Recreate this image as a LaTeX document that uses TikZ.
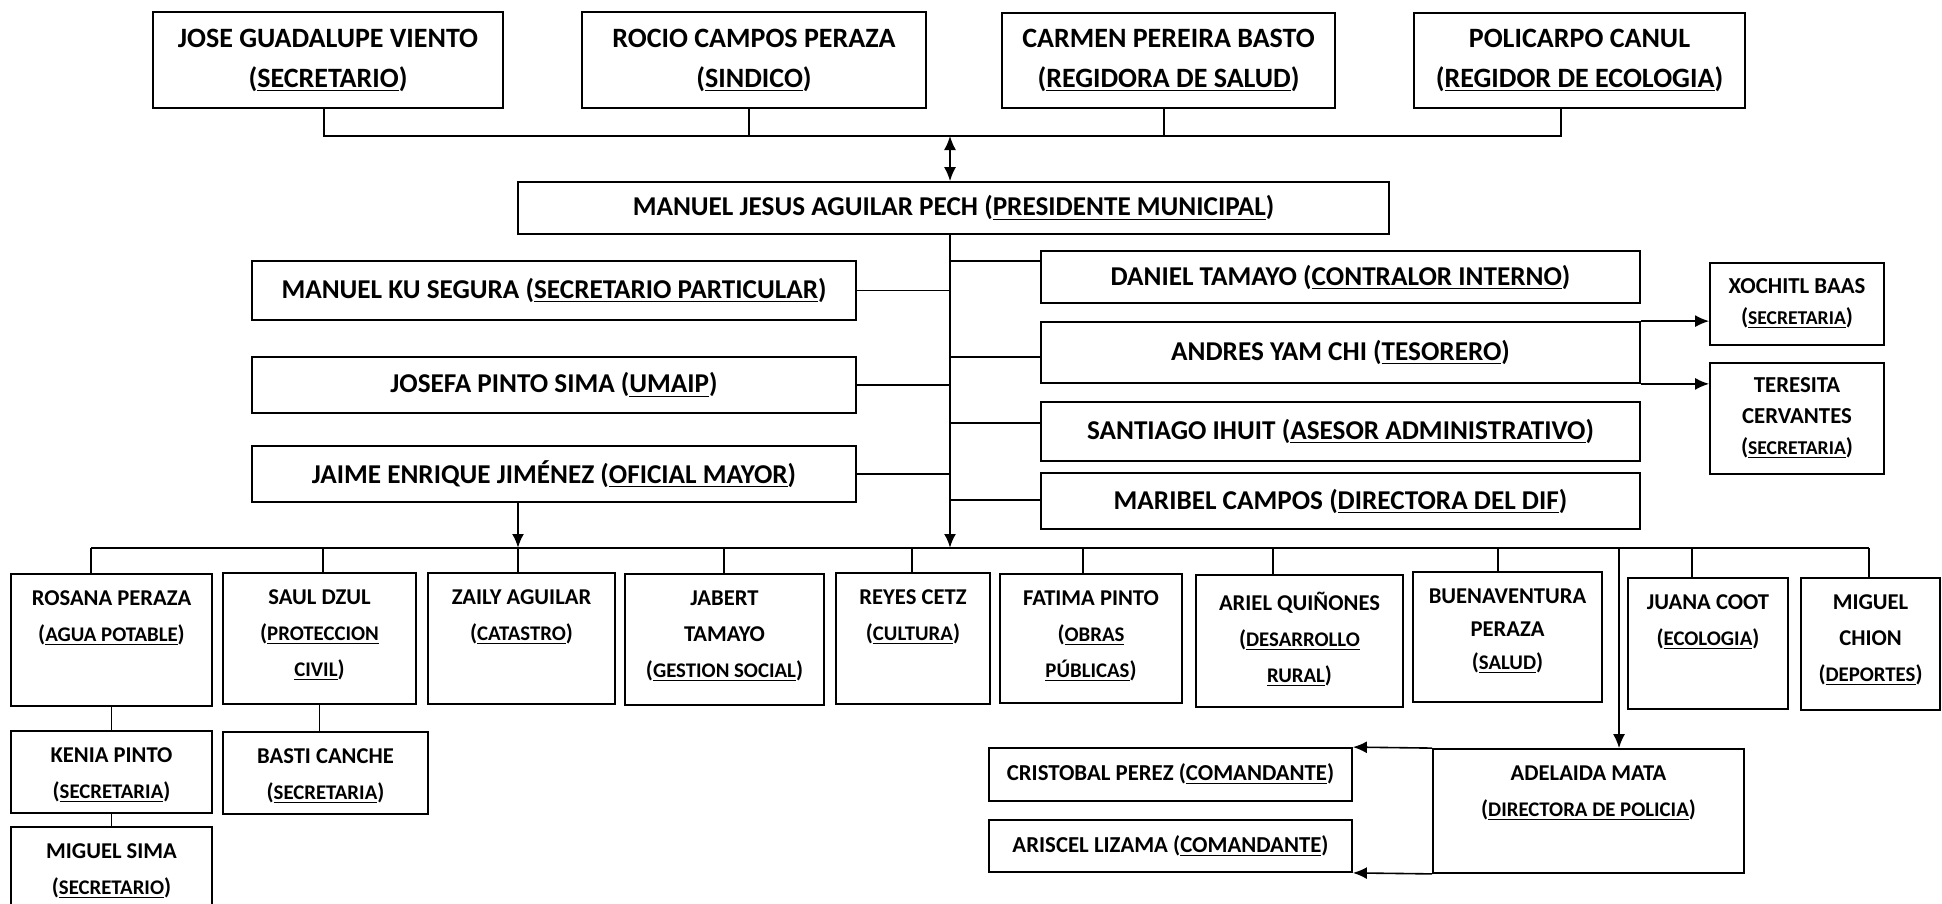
\documentclass[tikz,border=0pt]{standalone}
\usepackage{fontspec}
\setmainfont{Carlito}
\usetikzlibrary{arrows.meta}
\newcommand\rsc[1]{{\fontsize{10.4}{18}\selectfont\underline{#1}}}
\newcommand\rxs[1]{{\fontsize{9.8}{15.5}\selectfont\underline{#1}}}
\newcommand\bx[7]{\node[#1, minimum width={(#4-#2)*0.5pt}, minimum height={(#5-#3)*0.5pt}] (#6) at ({(#2+#4)/2},{(#3+#5)/2}) {#7};}
\newcommand\sbx[6]{\node[sbox, minimum width={(#3-#1)*0.5pt}, minimum height={(#4-#2)*0.5pt}, label={[lbl]north:{#6}}] (#5) at ({(#1+#3)/2},{(#2+#4)/2}) {};}
\tikzset{
  bx/.style={draw, line width=0.9pt, inner sep=0pt, align=center},
  tbox/.style={bx, font=\bfseries\fontsize{14}{20}\selectfont},
  mbox/.style={bx, font=\bfseries\fontsize{13.6}{20}\selectfont},
  sbox/.style={bx},
  xbox/.style={bx, font=\bfseries\fontsize{11.4}{15.5}\selectfont},
  cbox/.style={bx, font=\bfseries\fontsize{11.4}{15}\selectfont},
  lbl/.style={anchor=north, yshift=-8.7pt, inner sep=0pt, align=center, font=\bfseries\fontsize{11.3}{18}\selectfont},
  conn/.style={line width=0.8pt},
  trunk/.style={line width=1.2pt},
  tip/.style={-{Latex[length=7pt,width=6pt]}}
}
\begin{document}
\begin{tikzpicture}[x=0.5pt,y=-0.5pt]
\useasboundingbox (0,0) rectangle (1942,904);
\clip (0,0) rectangle (1942,904);
% top row
\bx{tbox}{153}{12}{503}{108}{jose}{JOSE GUADALUPE VIENTO\\(\underline{SECRETARIO})}
\bx{tbox}{582}{12}{926}{108}{rocio}{ROCIO CAMPOS PERAZA\\(\underline{SINDICO})}
\bx{tbox}{1002}{13}{1335}{108}{carmen}{CARMEN PEREIRA BASTO\\(\underline{REGIDORA DE SALUD})}
\bx{tbox}{1414}{13}{1745}{108}{poli}{POLICARPO CANUL\\(\underline{REGIDOR DE ECOLOGIA})}
\coordinate (dj) at (324,136);
\coordinate (dr) at (749,136);
\coordinate (dc) at (1164,136);
\coordinate (dp) at (1561,136);
\coordinate (dm) at (950,136);
\draw[conn] (dj |- jose.south) -- (dj) -- (dp) -- (dp |- poli.south);
\draw[conn] (dr |- rocio.south) -- (dr);
\draw[conn] (dc |- carmen.south) -- (dc);
% president
\bx{mbox}{518}{182}{1389}{234}{pres}{MANUEL JESUS AGUILAR PECH (\underline{PRESIDENTE MUNICIPAL})}
\draw[conn, {Latex[length=7pt,width=6pt]}-{Latex[length=7pt,width=6pt]}] (dm) -- (dm |- pres.north);
\coordinate (tr) at (950,548);
\draw[trunk, tip] (tr |- pres.south) -- (tr);
% left column
\bx{mbox}{252}{261}{856}{320}{ku}{MANUEL KU SEGURA (\underline{SECRETARIO PARTICULAR})}
\bx{mbox}{252}{357}{856}{413}{josefa}{JOSEFA PINTO SIMA (\underline{UMAIP})}
\bx{mbox}{252}{446}{856}{502}{jaime}{JAIME ENRIQUE JIMÉNEZ (\underline{OFICIAL MAYOR})}
\draw[conn] (ku.east) -- (ku.east -| tr);
\draw[conn] (josefa.east) -- (josefa.east -| tr);
\draw[conn] (jaime.east) -- (jaime.east -| tr);
% right column
\bx{mbox}{1041}{251}{1640}{303}{daniel}{DANIEL TAMAYO (\underline{CONTRALOR INTERNO})}
\bx{mbox}{1041}{322}{1640}{383}{andres}{ANDRES YAM CHI (\underline{TESORERO})}
\bx{mbox}{1041}{402}{1640}{461}{santiago}{SANTIAGO IHUIT (\underline{ASESOR ADMINISTRATIVO})}
\bx{mbox}{1041}{473}{1640}{529}{maribel}{MARIBEL CAMPOS (\underline{DIRECTORA DEL DIF})}
\coordinate (cd) at (950,261);
\coordinate (ca) at (950,357);
\coordinate (cs) at (950,423);
\coordinate (cm) at (950,500);
\draw[conn] (cd) -- (cd -| daniel.west);
\draw[conn] (ca) -- (ca -| andres.west);
\draw[conn] (cs) -- (cs -| santiago.west);
\draw[conn] (cm) -- (cm -| maribel.west);
% secretaries of treasurer
\bx{xbox}{1710}{263}{1884}{345}{xochitl}{XOCHITL BAAS\\(\rxs{SECRETARIA})}
\bx{xbox}{1710}{363}{1884}{474}{teresita}{TERESITA\\CERVANTES\\(\rxs{SECRETARIA})}
\draw[conn, tip] (andres.north east) -- (andres.north east -| xochitl.west);
\draw[conn, tip] (andres.south east) -- (andres.south east -| teresita.west);
% bottom row
\sbx{11}{574}{212}{706}{rosana}{ROSANA PERAZA\\(\rsc{AGUA POTABLE})}
\sbx{223}{573}{416}{704}{saul}{SAUL DZUL\\(\rsc{PROTECCION}\\\rsc{CIVIL})}
\sbx{428}{573}{615}{704}{zaily}{ZAILY AGUILAR\\(\rsc{CATASTRO})}
\sbx{625}{574}{824}{705}{jabert}{JABERT\\TAMAYO\\(\rsc{GESTION SOCIAL})}
\sbx{836}{573}{990}{704}{reyes}{REYES CETZ\\(\rsc{CULTURA})}
\sbx{1000}{574}{1182}{703}{fatima}{FATIMA PINTO\\(\rsc{OBRAS}\\\rsc{PÚBLICAS})}
\sbx{1196}{575}{1403}{707}{ariel}{ARIEL QUIÑONES\\(\rsc{DESARROLLO}\\\rsc{RURAL})}
\node[sbox, minimum width={(1602-1413)*0.5pt}, minimum height={(702-572)*0.5pt}, label={[lbl, font=\bfseries\fontsize{11.3}{16.5}\selectfont]north:{BUENAVENTURA\\PERAZA\\(\rsc{SALUD})}}] (buena) at ({(1413+1602)/2},{(572+702)/2}) {};
\sbx{1628}{578}{1788}{709}{juana}{JUANA COOT\\(\rsc{ECOLOGIA})}
\sbx{1801}{578}{1940}{710}{chion}{MIGUEL\\CHION\\(\rsc{DEPORTES})}
\coordinate (bl) at (91,548);
\coordinate (br) at (1869,548);
\draw[conn] (bl) -- (br);
\foreach \n/\x in {rosana/91, saul/323, jabert/724, reyes/912, fatima/1083, ariel/1273, buena/1498, juana/1692, chion/1869} {
  \coordinate (bb) at (\x,548);
  \draw[conn] (bb) -- (bb |- \n.north);
}
\coordinate (bz) at (518,548);
\draw[trunk, tip] (bz |- jaime.south) -- (bz);
\draw[conn] (bz) -- (bz |- zaily.north);
% sub boxes
\sbx{11}{731}{212}{813}{kenia}{KENIA PINTO\\(\rsc{SECRETARIA})}
\sbx{11}{827}{212}{920}{msima}{MIGUEL SIMA\\(\rsc{SECRETARIO})}
\sbx{223}{732}{428}{814}{basti}{BASTI CANCHE\\(\rsc{SECRETARIA})}
\draw[conn] (rosana.south) -- (kenia.north);
\draw[conn] (kenia.south) -- (msima.north);
\draw[conn] (saul.south) -- (saul.south |- basti.north);
% police
\sbx{1433}{749}{1744}{873}{adelaida}{ADELAIDA MATA\\(\rsc{DIRECTORA DE POLICIA})}
\bx{cbox}{989}{748}{1352}{801}{cristobal}{CRISTOBAL PEREZ (\underline{COMANDANTE})}
\bx{cbox}{989}{820}{1352}{872}{ariscel}{ARISCEL LIZAMA (\underline{COMANDANTE})}
\coordinate (ba) at (1619,548);
\draw[conn, tip] (ba) -- (ba |- adelaida.north);
\draw[conn, tip] (adelaida.north west) -- (cristobal.north east);
\draw[conn, tip] (adelaida.south west) -- (ariscel.south east);
\end{tikzpicture}
\end{document}
